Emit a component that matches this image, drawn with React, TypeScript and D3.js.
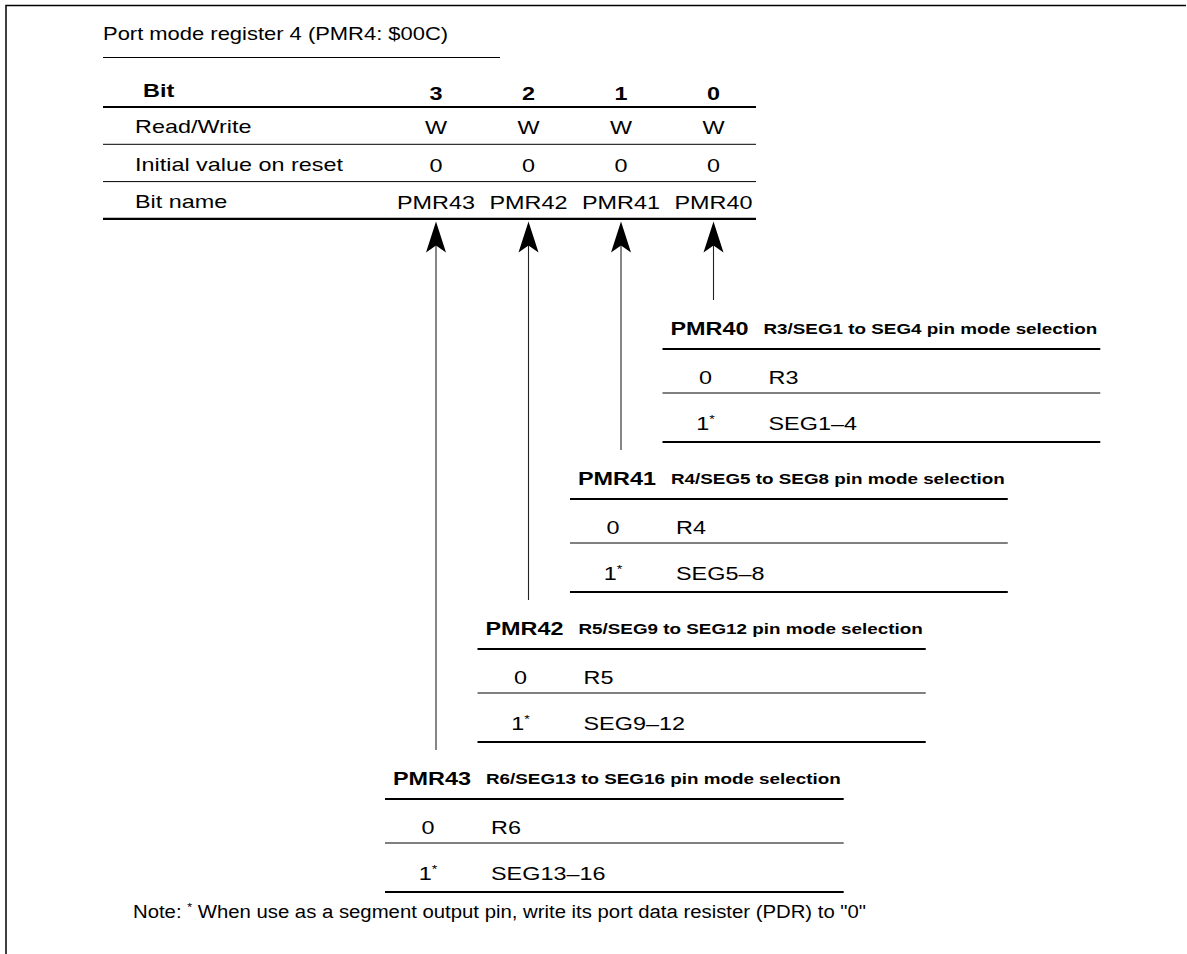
import React, { useEffect, useRef } from "react";
import * as d3 from "d3";

// ---------- data ----------
const title = "Port mode register 4 (PMR4: $00C)";
const bits = [3, 2, 1, 0];
const headerLabel = "Bit";
const rowLabels = ["Read/Write", "Initial value on reset", "Bit name"];
const accessRow = ["W", "W", "W", "W"];
const initialRow = ["0", "0", "0", "0"];
const bitNames = ["PMR43", "PMR42", "PMR41", "PMR40"];

// per bit (index = bit number 0..3)
const blockNames = ["PMR40", "PMR41", "PMR42", "PMR43"];
const blockDescs = [
  "R3/SEG1 to SEG4 pin mode selection",
  "R4/SEG5 to SEG8 pin mode selection",
  "R5/SEG9 to SEG12 pin mode selection",
  "R6/SEG13 to SEG16 pin mode selection",
];
const optionValues = ["0", "1"];
const option0Labels = ["R3", "R4", "R5", "R6"];
const option1Labels = ["SEG1\u20134", "SEG5\u20138", "SEG9\u201312", "SEG13\u201316"];
const noteBefore = "Note:  ";
const noteAfter = " When use as a segment output pin, write its port data resister (PDR) to \"0\"";

// ---------- layout ----------
const W = 1187;
const H = 954;
const FONT = '"Liberation Sans", Arial, Helvetica, sans-serif';
const SX = 1.3;

export default function App() {
  const ref = useRef<SVGSVGElement>(null);

  useEffect(() => {
    const svg = d3.select(ref.current as SVGSVGElement);
    svg.selectAll("*").remove();

    const txt = (
      x: number,
      y: number,
      s: string,
      size: number,
      weight: string = "normal",
      anchor: string = "start",
      sx: number = SX
    ) =>
      svg
        .append("text")
        .attr("transform", `translate(${x},${y}) scale(${sx},1)`)
        .attr("font-family", FONT)
        .attr("font-size", size)
        .attr("font-weight", weight)
        .attr("text-anchor", anchor)
        .attr("fill", "#000")
        .text(s);

    const hline = (x1: number, x2: number, y: number, w: number, c = "#000") =>
      svg
        .append("line")
        .attr("x1", x1)
        .attr("x2", x2)
        .attr("y1", y)
        .attr("y2", y)
        .attr("stroke", c)
        .attr("stroke-width", w);

    // frame
    svg.append("path").attr("d", `M6,${H} L6,5.5 L1186,5.5`).attr("fill", "none").attr("stroke", "#000").attr("stroke-width", 1.5);

    // title
    const left = 103;
    txt(left, 40, title, 18, "normal", "start", 1.22);
    hline(left, 500, 57.5, 1.2);

    // bit table
    const x = d3.scalePoint<number>().domain(bits).range([436, 713.5]);
    const tableRight = 756;
    const rowY = d3.scaleLinear().domain([0, 1]).range([107, 144.3]); // line positions
    txt(143, 97, headerLabel, 18, "bold");
    bits.forEach((b) => txt(x(b)!, 100, String(b), 18, "bold", "middle"));
    hline(left, tableRight, rowY(0), 2.2);
    const rows = [accessRow, initialRow, bitNames];
    rowLabels.forEach((lab, i) => {
      const base = rowY(i + 1) - 11;
      txt(135, base, lab, 18);
      rows[i].forEach((v, j) => txt(x(bits[j])!, base + 1, v, 18, "normal", "middle"));
      hline(left, tableRight, rowY(i + 1), i === rowLabels.length - 1 ? 2.2 : 1);
    });

    // blocks
    const by = d3.scaleLinear().domain([0, 3]).range([335, 785]);
    const arrowTop = rowY(3) + 2.5;
    [0, 1, 2, 3].forEach((bit) => {
      const ax = x(bit)!;
      const b = by(bit);
      // arrow line
      svg
        .append("line")
        .attr("x1", ax)
        .attr("x2", ax)
        .attr("y1", arrowTop + 20)
        .attr("y2", b - 35)
        .attr("stroke", "#222")
        .attr("stroke-width", 1.1);
      // arrow head
      svg
        .append("path")
        .attr(
          "d",
          `M${ax},${arrowTop} L${ax + 10},${arrowTop + 31} L${ax},${arrowTop + 24} L${ax - 10},${arrowTop + 31} Z`
        )
        .attr("fill", "#000");

      const x0 = ax - 51;
      txt(x0 + 8, b, blockNames[bit], 18, "bold");
      const d = txt(x0 + 101, b - 1, blockDescs[bit], 14.5, "bold");
      const len = (d.node() as SVGTextElement).getComputedTextLength() * SX;
      const x1 = x0 + 101 + len + 3;
      hline(x0, x1, b + 14, 2.2);
      const vx = x0 + 43;
      const lx = x0 + 106;
      txt(vx, b + 49, optionValues[0], 18, "normal", "middle");
      txt(lx, b + 49, option0Labels[bit], 18);
      hline(x0, x1, b + 58, 1);
      const t1 = txt(vx, b + 95, "", 18, "normal", "middle");
      t1.append("tspan").text(optionValues[1]);
      t1.append("tspan").attr("font-size", 11).attr("dy", -7).text("*");
      txt(lx, b + 95, option1Labels[bit], 18);
      hline(x0, x1, b + 107, 2.2);
    });

    // note
    const n = txt(133, 918, "", 18, "normal", "start", 1.13);
    n.append("tspan").text(noteBefore);
    n.append("tspan").attr("font-size", 11).attr("dy", -7).text("*");
    n.append("tspan").attr("dy", 7).text(noteAfter);
  }, []);

  return (
    <svg
      ref={ref}
      width={W}
      height={H}
      style={{ position: "absolute", left: 0, top: 0, background: "#fff" }}
    />
  );
}
